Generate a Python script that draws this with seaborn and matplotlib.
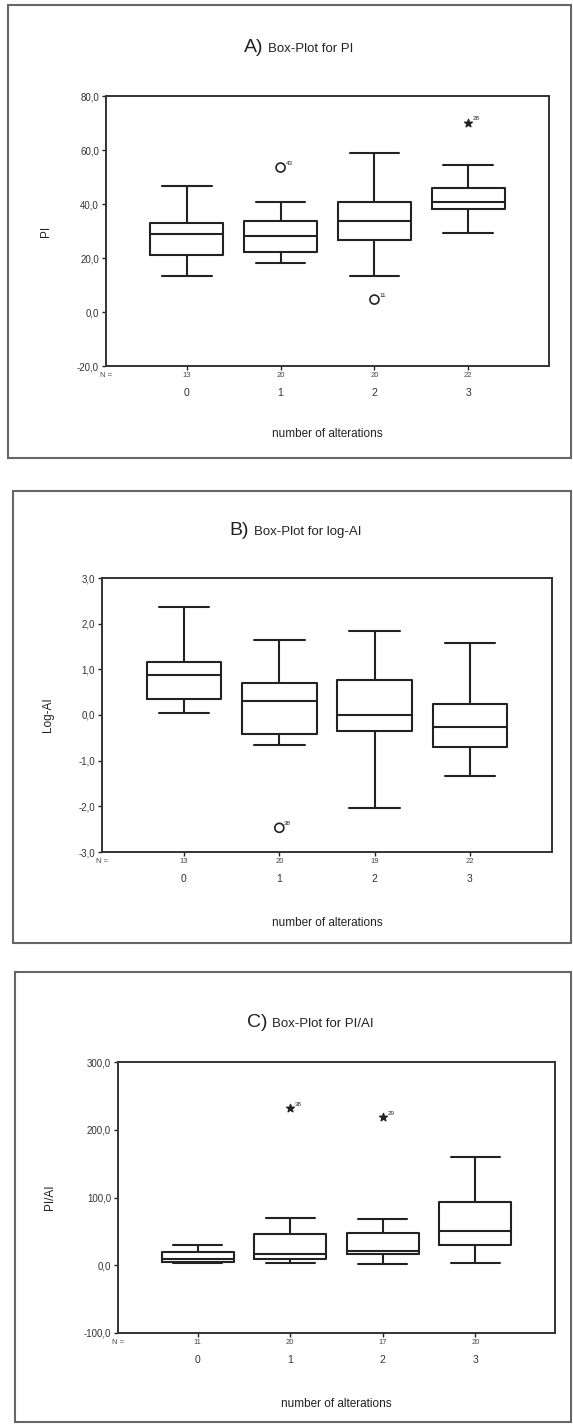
# box-ploty PI, log-AI a PI/AI podla poctu alteracii (prepis naskenovaneho obrazku)
import pandas as pd
import matplotlib
matplotlib.use("Agg")
import matplotlib.pyplot as plt
from matplotlib.patches import Rectangle
from matplotlib.ticker import FuncFormatter
import seaborn as sns

GROUPS = ["0", "1", "2", "3"]

# (min, Q1, median, Q3, max) pre kazdu skupinu, odcitane zo skenu
PI_BOX = [
    [13.4, 21.1, 28.9, 33.0, 46.5],
    [18.3, 22.4, 28.2, 33.8, 40.8],
    [13.4, 26.8, 33.8, 40.7, 58.8],
    [29.3, 38.1, 40.8, 45.9, 54.6],
]
PI_N = [13, 20, 20, 22]
PI_OUT_GROUP = ["1", "2", "3"]
PI_OUT_VALUE = [53.5, 4.6, 70.1]
PI_OUT_EXTREME = [False, False, True]
PI_OUT_CASE = ["43", "11", "28"]

LOGAI_BOX = [
    [0.04, 0.35, 0.88, 1.17, 2.36],
    [-0.65, -0.41, 0.30, 0.70, 1.64],
    [-2.04, -0.36, 0.00, 0.77, 1.85],
    [-1.33, -0.69, -0.27, 0.24, 1.57],
]
LOGAI_N = [13, 20, 19, 22]
LOGAI_OUT_GROUP = ["1"]
LOGAI_OUT_VALUE = [-2.47]
LOGAI_OUT_EXTREME = [False]
LOGAI_OUT_CASE = ["38"]

PIAI_BOX = [
    [3.0, 5.0, 9.0, 19.3, 29.2],
    [3.0, 9.0, 16.3, 45.4, 69.1],
    [2.0, 16.3, 20.8, 48.0, 69.0],
    [4.0, 29.2, 50.4, 92.8, 159.4],
]
PIAI_N = [11, 20, 17, 20]
PIAI_OUT_GROUP = ["1", "2"]
PIAI_OUT_VALUE = [231.4, 218.1]
PIAI_OUT_EXTREME = [True, True]
PIAI_OUT_CASE = ["38", "29"]

INK = "#222222"

sns.set_style("white")
plt.rcParams["font.family"] = ["Liberation Sans", "DejaVu Sans"]


def comma_fmt(v, pos):
    return f"{v:.1f}".replace(".", ",")


def draw_panel(ax, five_num, n_counts, out_group, out_value, out_extreme, out_case,
               ylim, yticks, ylabel, ylabel_x, xlabel_y):
    rows = [(g, v) for g, vals in zip(GROUPS, five_num) for v in vals]
    df = pd.DataFrame(rows, columns=["group", "value"])
    sns.boxplot(data=df, x="group", y="value", order=GROUPS, whis=(0, 100),
                fill=False, color=INK, linewidth=1.5, width=0.78,
                showfliers=False, capwidths=0.53, ax=ax)

    xs = [GROUPS.index(g) for g in out_group]
    for x, y, ext, case in zip(xs, out_value, out_extreme, out_case):
        if ext:
            ax.scatter([x], [y], marker="*", s=34, color=INK, zorder=5)
        else:
            ax.scatter([x], [y], marker="o", s=42, facecolors="none",
                       edgecolors=INK, linewidths=1.2, zorder=5)
        ax.annotate(case, (x, y), xytext=(3.5, 1), textcoords="offset points",
                    fontsize=4.5, color=INK, va="bottom")

    ax.set_xlim(-0.86, 3.86)
    ax.set_ylim(*ylim)
    ax.set_yticks(yticks)
    ax.yaxis.set_major_formatter(FuncFormatter(comma_fmt))
    ax.set_xticks(range(len(GROUPS)))
    ax.set_xticklabels(GROUPS)
    ax.tick_params(axis="y", length=3, width=1, color=INK, labelsize=7,
                   labelcolor="#333333", pad=2, left=True)
    ax.tick_params(axis="x", length=3, width=1, color=INK, labelsize=7.5,
                   labelcolor="#333333", pad=13, bottom=True)
    for sp in ax.spines.values():
        sp.set_visible(True)
        sp.set_color("#333333")
        sp.set_linewidth(1.4)

    # N = pocty pod osou
    ax.annotate("N =", xy=(0, 0), xycoords="axes fraction", xytext=(0, -6.5),
                textcoords="offset points", ha="center", va="center",
                fontsize=5.5, color="#444444")
    for i, n in enumerate(n_counts):
        ax.annotate(str(n), xy=(i, 0), xycoords=("data", "axes fraction"),
                    xytext=(0, -6.5), textcoords="offset points", ha="center",
                    va="center", fontsize=5.5, color="#444444")

    ax.set_xlabel("number of alterations", fontsize=8.5, color=INK)
    ax.set_ylabel(ylabel, fontsize=8.5, color=INK)
    ax.xaxis.set_label_coords(0.5, xlabel_y)
    ax.yaxis.set_label_coords(ylabel_x, 0.5)


fig = plt.figure(figsize=(5.73, 14.25), dpi=100)

# ramceky okolo panelov
for (x0, y0, x1, y1) in [(8, 5, 571, 458), (13, 491, 571, 943), (15, 972, 571, 1422)]:
    fig.add_artist(Rectangle((x0 / 573, 1 - y1 / 1425), (x1 - x0) / 573, (y1 - y0) / 1425,
                             transform=fig.transFigure, fill=False,
                             edgecolor="#666666", linewidth=1.5))

ax_a = fig.add_axes([106 / 573, 1 - 366 / 1425, 443 / 573, 270 / 1425])
ax_b = fig.add_axes([102 / 573, 1 - 852 / 1425, 450 / 573, 274 / 1425])
ax_c = fig.add_axes([118 / 573, 1 - 1333 / 1425, 437 / 573, 271 / 1425])

draw_panel(ax_a, PI_BOX, PI_N, PI_OUT_GROUP, PI_OUT_VALUE, PI_OUT_EXTREME, PI_OUT_CASE,
           (-20, 80), [-20, 0, 20, 40, 60, 80], "PI", -0.123, -0.23)
draw_panel(ax_b, LOGAI_BOX, LOGAI_N, LOGAI_OUT_GROUP, LOGAI_OUT_VALUE, LOGAI_OUT_EXTREME,
           LOGAI_OUT_CASE, (-3, 3), [-3, -2, -1, 0, 1, 2, 3], "Log-AI", -0.106, -0.237)
draw_panel(ax_c, PIAI_BOX, PIAI_N, PIAI_OUT_GROUP, PIAI_OUT_VALUE, PIAI_OUT_EXTREME,
           PIAI_OUT_CASE, (-100, 300), [-100, 0, 100, 200, 300], "PI/AI", -0.141, -0.24)

# nadpisy: velke pismeno + mensi text
for letter, rest, x_end, y_base in [("A)", "Box-Plot for PI", 263, 52),
                                    ("B)", "Box-Plot for log-AI", 249, 535),
                                    ("C)", "Box-Plot for PI/AI", 267, 1027)]:
    fig.text(x_end / 573, 1 - y_base / 1425, letter, ha="right", va="baseline",
             fontsize=14, color=INK)
    fig.text((x_end + 5) / 573, 1 - y_base / 1425, rest, ha="left", va="baseline",
             fontsize=9.5, color=INK)

fig.savefig("out.png", dpi=100)
